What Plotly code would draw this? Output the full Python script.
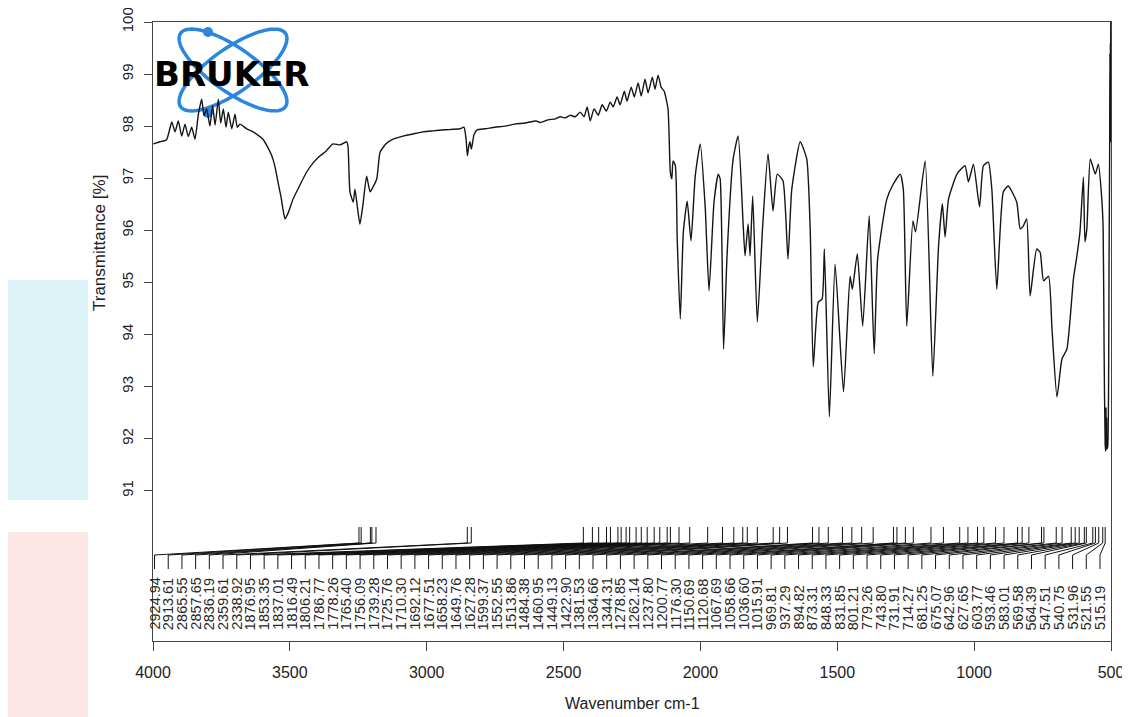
import numpy as np
import plotly.graph_objects as go

# ---------------- data ----------------
WAVENUMBER = [
    3998, 3963, 3929, 3902, 3885, 3868, 3850, 3833, 3816, 3798, 3781, 3763, 3746, 3734,
    3720, 3703, 3689, 3676, 3659, 3647, 3633, 3619, 3607, 3589, 3572, 3560, 3546, 3511,
    3477, 3442, 3426,
    3405, 3380, 3363, 3348, 3332, 3322, 3311, 3295, 3269, 3233, 3198, 3165, 3128, 3097,
    3061, 3024, 2989, 2982, 2972, 2955, 2946, 2935, 2920, 2904, 2885, 2867, 2852, 2832,
    2815, 2784, 2747, 2695, 2643, 2591, 2539, 2476, 2398, 2377, 2366, 2359, 2351, 2346,
    2338, 2325, 2309, 2267, 2215, 2163, 2111, 2058, 2001,
    1990, 1969, 1950, 1937, 1924, 1911, 1898, 1885, 1875, 1867, 1859, 1849, 1838, 1828,
    1817, 1807, 1799, 1789, 1781, 1770, 1763, 1752, 1744, 1734, 1726, 1716, 1708, 1697,
    1690, 1682, 1674, 1666, 1656, 1650, 1646, 1643, 1637, 1632, 1624, 1616, 1606, 1596,
    1585, 1572, 1559, 1549, 1536, 1525, 1520, 1511, 1502, 1486, 1473, 1460, 1455, 1447,
    1442, 1435, 1423, 1409, 1395, 1382, 1371, 1356, 1343, 1333, 1311, 1294, 1285, 1277,
    1264, 1254, 1248, 1235, 1220, 1198, 1181, 1175, 1162, 1148, 1131, 1118, 1109, 1085,
    1068, 1050, 1042, 1033, 1017, 1010, 985, 965, 950, 940, 933, 924, 902, 881, 872, 859,
    843, 833, 820, 811, 798, 781, 768, 746, 737, 729, 720, 711, 694, 685, 676, 663, 654,
    641, 628, 615, 598, 589, 581, 572, 568, 563, 554, 541, 533, 524, 520.5, 518, 515.3,
    513.8, 513, 512.2, 511.4, 510.6, 508.5, 505, 503.5, 502.8, 502.2, 501.6, 501, 500.5, 500,
]
TRANSMITTANCE = [
    97.66, 97.70, 97.74, 98.08, 97.89, 98.10, 97.81, 98.04, 97.80, 97.98, 97.75, 98.23, 98.52, 98.20,
    98.33, 98.00, 98.40, 98.02, 98.52, 98.06, 98.33, 97.98, 98.27, 97.95, 98.23, 97.98, 98.04, 97.95,
    97.89, 97.80, 97.75,
    97.62, 97.43, 97.22, 96.93, 96.64, 96.41, 96.22, 96.33, 96.60, 96.87, 97.12, 97.29, 97.43, 97.52,
    97.66, 97.64, 97.70, 97.60, 96.74, 96.54, 96.79, 96.50, 96.12, 96.50, 97.04, 96.74, 96.83, 96.99,
    97.50, 97.66, 97.75, 97.81, 97.85, 97.89, 97.91, 97.93, 97.95, 97.98, 97.75, 97.43, 97.64, 97.70,
    97.56, 97.83, 97.93, 97.95, 97.98, 98.00, 98.04, 98.06, 98.10,
    98.07, 98.12, 98.14, 98.18, 98.16, 98.21, 98.18, 98.27, 98.18, 98.37, 98.10, 98.33, 98.21, 98.41,
    98.29, 98.46, 98.37, 98.56, 98.41, 98.67, 98.48, 98.75, 98.56, 98.83, 98.58, 98.90, 98.64, 98.94,
    98.71, 98.98, 98.75, 98.67, 98.33, 97.12, 96.99, 97.33, 97.25, 95.83, 94.30, 95.97, 96.56, 95.80,
    97.04, 97.66, 96.45, 94.84, 96.54, 97.08, 96.99, 93.72, 95.51, 97.37, 97.81, 96.12, 95.51, 96.12,
    95.51, 96.66, 94.24, 96.08, 97.47, 96.37, 97.08, 96.95, 95.45, 96.79, 97.70, 97.37, 96.03, 93.38,
    94.62, 94.68, 95.64, 92.42, 95.35, 92.90, 95.12, 94.87, 95.55, 94.16, 96.28, 93.63, 95.45, 96.60,
    96.89, 97.08, 96.79, 94.16, 96.18, 95.97, 97.33, 93.20, 95.70, 96.51, 95.87, 96.60, 97.08, 97.24, 96.93, 97.27,
    96.45, 97.24, 97.31, 96.79, 94.87, 96.74, 96.85, 96.54, 96.03, 96.08, 96.22, 94.74, 95.64, 95.58, 95.03, 95.12, 94.11,
    92.80, 93.53, 93.72, 95.07, 95.51, 95.97, 97.02, 95.78, 96.03, 97.37, 97.08, 97.27, 96.60, 96.03, 93.72, 91.90,
    91.76, 92.60, 91.80, 92.40, 91.80, 91.85, 95.50, 97.60, 99.40, 97.80, 99.60, 97.70, 100.5, 101.0,
]
PEAK_LABELS = [
    2924.94, 2913.61, 2865.55, 2857.65, 2836.19, 2359.61, 2338.92, 1876.95, 1853.35, 1837.01,
    1816.49, 1806.21, 1786.77, 1778.26, 1765.40, 1756.09, 1739.28, 1725.76, 1710.30, 1692.12,
    1677.51, 1658.23, 1649.76, 1627.28, 1599.37, 1552.55, 1513.86, 1484.38, 1460.95, 1449.13,
    1422.90, 1381.53, 1364.66, 1344.31, 1278.85, 1262.14, 1237.80, 1200.77, 1176.30, 1150.69,
    1120.68, 1067.69, 1058.66, 1036.60, 1015.91, 969.81, 937.29, 894.82, 873.31, 848.33,
    831.85, 801.21, 779.26, 743.80, 731.91, 714.27, 681.25, 675.07, 642.96, 627.65,
    603.77, 593.46, 583.01, 569.58, 564.39, 547.51, 540.75, 531.96, 521.55, 515.19,
]
X_TICKS = [4000, 3500, 3000, 2500, 2000, 1500, 1000, 500]
Y_TICKS = [91, 92, 93, 94, 95, 96, 97, 98, 99, 100]

# ---------------- geometry / style ----------------
PAGE_OFFSET = 8                      # default body margin of the html page
W, H = 1130 - PAGE_OFFSET, 717 - PAGE_OFFSET
PLOT_L, PLOT_T, PLOT_R, PLOT_B = 153, 22, 1111, 641   # screen pixels of the frame
ML, MT = PLOT_L - PAGE_OFFSET, PLOT_T - PAGE_OFFSET
PW, PH = PLOT_R - PLOT_L, PLOT_B - PLOT_T
MR, MB = W - ML - PW, H - MT - PH
X_RANGE = [4000, 500]
PX_PER_UNIT_Y = 52.08
Y_RANGE = [100 - PH / PX_PER_UNIT_Y, 100.0001]
FONT = "Liberation Sans, Arial, sans-serif"
AX = "#444444"


def to_axis(wn):
    # the drawn spectrum uses a 2x expanded scale below 2000 cm-1,
    # while the printed axis labels are linear
    wn = np.asarray(wn, dtype=float)
    return np.where(wn >= 2000, 4000 - 0.7 * (4000 - wn), 2600 - 1.4 * (2000 - wn))


def px_to_paper(px, py):
    return (px - PLOT_L) / PW, (PLOT_B - py) / PH


fig = go.Figure()

fig.add_trace(go.Scatter(
    x=to_axis(WAVENUMBER), y=TRANSMITTANCE, mode="lines",
    line=dict(color="#151515", width=1.4, shape="spline", smoothing=0.5),
    hoverinfo="skip", showlegend=False,
))

# peak-label leader lines (y2 is a pixel-like helper axis for the label band)
peak_x = to_axis(PEAK_LABELS)
n = len(PEAK_LABELS)
first_frac, last_frac = 0.0016, 0.9885
label_x = [X_RANGE[0] + (X_RANGE[1] - X_RANGE[0]) * (first_frac + (last_frac - first_frac) * i / (n - 1))
           for i in range(n)]
Y_TICK_TOP, Y_TICK_BOT, Y_DIAG_END, Y_LAB_BOT, Y_TEXT = 114, 98, 86, 72, 9
lx, ly = [], []
for p, l in zip(peak_x, label_x):
    lx += [p, p, l, l, None]
    ly += [Y_TICK_TOP, Y_TICK_BOT, Y_DIAG_END, Y_LAB_BOT, None]
fig.add_trace(go.Scatter(
    x=lx, y=ly, yaxis="y2", mode="lines", line=dict(color="#111111", width=1.0),
    hoverinfo="skip", showlegend=False,
))

annotations = []
for v, l in zip(PEAK_LABELS, label_x):
    annotations.append(dict(
        text=f"{v:.2f}", x=l, y=Y_TEXT, xref="x", yref="y2", textangle=-90,
        xanchor="center", yanchor="bottom", showarrow=False,
        font=dict(family=FONT, size=14.5, color="#2a2a2a"),
    ))

# axis titles
tx, ty = px_to_paper(99, 243)
annotations.append(dict(text="Transmittance [%]", x=tx, y=ty, xref="paper", yref="paper",
                        textangle=-90, showarrow=False, xanchor="center", yanchor="middle",
                        font=dict(family=FONT, size=17, color="#222222")))
tx, ty = px_to_paper(632, 703)
annotations.append(dict(text="Wavenumber cm-1", x=tx, y=ty, xref="paper", yref="paper",
                        showarrow=False, xanchor="center", yanchor="middle",
                        font=dict(family=FONT, size=16, color="#222222")))

# logo text
tx, ty = px_to_paper(231, 74)
annotations.append(dict(text="<b>BRUKER</b>", x=tx, y=ty, xref="paper", yref="paper",
                        showarrow=False, xanchor="center", yanchor="middle",
                        font=dict(family="DejaVu Sans, sans-serif", size=34, color="#000000")))

# ---------------- decorative shapes ----------------
shapes = []


def rect_px(x0, y0, x1, y1, color):
    a0, b0 = px_to_paper(x0, y0)
    a1, b1 = px_to_paper(x1, y1)
    return dict(type="rect", xref="paper", yref="paper", x0=a0, x1=a1, y0=b1, y1=b0,
                fillcolor=color, line=dict(width=0), layer="below")


shapes.append(rect_px(0, 280, 88, 500, "#dcf4f8"))
shapes.append(rect_px(0, 532, 88, 717, "#fce6e6"))


def ellipse_path(cx, cy, a, b, ang):
    t = np.linspace(0, 2 * np.pi, 90)
    c, s = np.cos(np.radians(ang)), np.sin(np.radians(ang))
    xs = cx + a * np.cos(t) * c - b * np.sin(t) * s
    ys = cy + a * np.cos(t) * s + b * np.sin(t) * c
    pts = [px_to_paper(x, y) for x, y in zip(xs, ys)]
    return "M " + " L ".join(f"{p:.5f},{q:.5f}" for p, q in pts) + " Z"


for ang in (35, -35):
    shapes.append(dict(type="path", xref="paper", yref="paper", path=ellipse_path(233, 70, 64, 22, ang),
                       line=dict(color="#2b86e0", width=3.5), layer="below"))
for cx, cy in ((208, 32), (208, 113)):
    a0, b0 = px_to_paper(cx - 5, cy + 5)
    a1, b1 = px_to_paper(cx + 5, cy - 5)
    shapes.append(dict(type="circle", xref="paper", yref="paper", x0=a0, y0=b0, x1=a1, y1=b1,
                       fillcolor="#2b86e0", line=dict(width=0), layer="below"))

fig.update_layout(
    width=W, height=H,
    margin=dict(l=ML, r=MR, t=MT, b=MB, pad=0, autoexpand=False),
    paper_bgcolor="white", plot_bgcolor="rgba(0,0,0,0)",
    showlegend=False,
    xaxis=dict(range=X_RANGE, tickvals=X_TICKS, ticktext=[str(v) for v in X_TICKS],
               ticks="outside", ticklen=9, tickwidth=1.2, tickcolor=AX, automargin=False,
               showline=True, linecolor=AX, linewidth=1.2, mirror=True,
               showgrid=False, zeroline=False, ticklabelstandoff=8,
               tickfont=dict(family=FONT, size=16, color="#222222")),
    yaxis=dict(range=Y_RANGE, tickvals=Y_TICKS, ticks="outside", ticklen=8, tickwidth=1.2,
               tickcolor=AX, showline=True, linecolor=AX, linewidth=1.2, mirror=True,
               showgrid=False, zeroline=False, tickangle=-90, ticklabelstandoff=5,
               ticklabeloverflow="allow", automargin=False,
               tickfont=dict(family=FONT, size=15, color="#222222")),
    yaxis2=dict(range=[0, PH], overlaying="y", visible=False, fixedrange=True),
    annotations=annotations,
    shapes=shapes,
)

fig.write_html("out.html")
